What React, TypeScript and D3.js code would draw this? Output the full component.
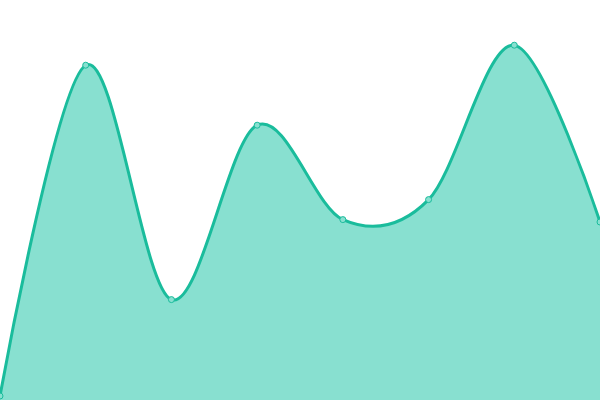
import React from "react";
import * as d3 from "d3";

const labels = ["A", "B", "C", "D", "E", "F", "G", "H"];
const values = [1, 83.7, 25.1, 68.7, 45.1, 50.1, 88.7, 44.5];

const width = 600;
const height = 400;
const lineColor = "#1abc9c";
const areaColor = "#88e0d0";

const App: React.FC = () => {
  const x = d3
    .scalePoint<string>()
    .domain(labels)
    .range([0, width]);
  const y = d3.scaleLinear().domain([0, 100]).range([height, 0]);

  const pts: [number, number][] = labels.map((l, i) => [x(l)!, y(values[i])]);

  const area = d3
    .area<[number, number]>()
    .x((d) => d[0])
    .y0(height)
    .y1((d) => d[1])
    .curve(d3.curveCardinal.tension(0));

  const line = d3
    .line<[number, number]>()
    .x((d) => d[0])
    .y((d) => d[1])
    .curve(d3.curveCardinal.tension(0));

  return (
    <svg
      width={width}
      height={height}
      style={{ position: "absolute", left: 0, top: 0, background: "#fff" }}
    >
      <path d={area(pts) ?? ""} fill={areaColor} />
      <path d={line(pts) ?? ""} fill="none" stroke={lineColor} strokeWidth={3} />
      {pts.map((p, i) => (
        <circle
          key={labels[i]}
          cx={p[0]}
          cy={p[1]}
          r={3}
          fill={areaColor}
          stroke={lineColor}
          strokeWidth={1}
        />
      ))}
    </svg>
  );
};

export default App;
